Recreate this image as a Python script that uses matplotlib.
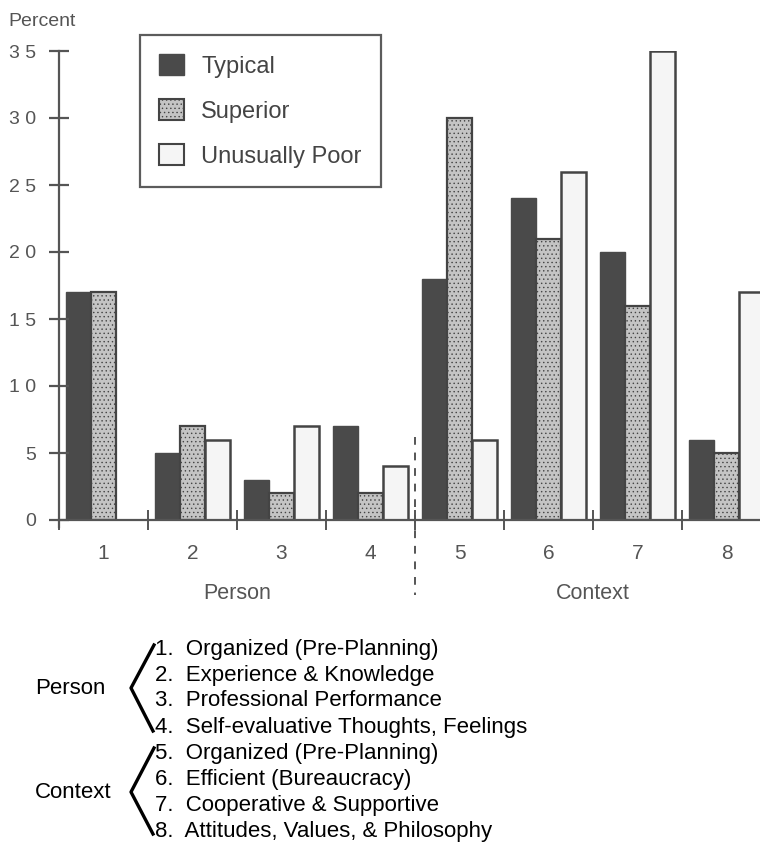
import matplotlib
matplotlib.use("Agg")
import matplotlib.pyplot as plt
from matplotlib.patches import Patch
from matplotlib.lines import Line2D
import numpy as np

plt.rcParams['font.family'] = ['Liberation Sans', 'DejaVu Sans']

categories = ["1", "2", "3", "4", "5", "6", "7", "8"]
typical = [17, 5, 3, 7, 18, 24, 20, 6]
superior = [17, 7, 2, 2, 30, 21, 16, 5]
unusually_poor = [0, 6, 7, 4, 6, 26, 35, 17]
series_names = ["Typical", "Superior", "Unusually Poor"]
yticks = [0, 5, 10, 15, 20, 25, 30, 35]
ytick_labels = ["0", "5", "1 0", "1 5", "2 0", "2 5", "3 0", "3 5"]
group_names = ["Person", "Context"]
person_items = ["1.  Organized (Pre-Planning)", "2.  Experience & Knowledge",
                "3.  Professional Performance", "4.  Self-evaluative Thoughts, Feelings"]
context_items = ["5.  Organized (Pre-Planning)", "6.  Efficient (Bureaucracy)",
                 "7.  Cooperative & Supportive", "8.  Attitudes, Values, & Philosophy"]

W, H = 760, 849
fig = plt.figure(figsize=(W/100, H/100), dpi=100)
fig.patch.set_facecolor('white')

ax_left, ax_right = 59, 771
ax_bottom, ax_top = 520, 51
ax = fig.add_axes([ax_left/W, 1-ax_bottom/H, (ax_right-ax_left)/W, (ax_bottom-ax_top)/H])

gray = '#555555'
x = np.arange(1, len(categories)+1)
bw = 0.28
c_typ = '#4a4a4a'
c_sup = '#c4c4c4'
c_poor = '#f5f5f5'
plt.rcParams['hatch.linewidth'] = 0.5

ax.bar(x - bw, typical, bw, color=c_typ, edgecolor=c_typ, linewidth=1.0, label=series_names[0])
ax.bar(x, superior, bw, color=c_sup, edgecolor='#444444', linewidth=1.6, hatch='....', label=series_names[1])
ax.bar(x + bw, [v if v > 0 else np.nan for v in unusually_poor], bw, color=c_poor,
       edgecolor='#444444', linewidth=1.8, label=series_names[2])

ax.set_xlim(0.5, 8.5)
ax.set_ylim(0, 35)
for s in ['top', 'right']:
    ax.spines[s].set_visible(False)
ax.spines['left'].set_color(gray)
ax.spines['bottom'].set_color(gray)
ax.spines['left'].set_linewidth(1.6)
ax.spines['bottom'].set_linewidth(1.6)
ax.spines['left'].set_bounds(-0.5, 35)
ax.spines['bottom'].set_position(('data', 0))

ax.set_yticks(yticks)
ax.set_yticklabels(ytick_labels, fontsize=14, color=gray)
ax.tick_params(axis='y', direction='inout', length=15, width=1.6, color=gray, pad=9)
ax.set_xticks(np.arange(0.5, 9.0, 1.0))
ax.set_xticklabels([])
ax.tick_params(axis='x', direction='inout', length=14, width=1.4, color=gray)

for xi, lab in zip(x, categories):
    ax.text(xi, -2.5, lab, ha='center', va='center', fontsize=15, color=gray, clip_on=False)
ax.text(2.5, -5.45, group_names[0], ha='center', va='center', fontsize=15.5, color=gray)
ax.text(6.5, -5.45, group_names[1], ha='center', va='center', fontsize=15.5, color=gray)
ax.plot([4.5, 4.5], [6.2, -5.6], ls=(0, (4, 4)), color=gray, lw=1.4, clip_on=False)

fig.text(8/W, 1-21/H, "Percent", fontsize=14, color=gray, ha='left', va='center')

handles = [Patch(facecolor=c_typ, edgecolor=c_typ),
           Patch(facecolor=c_sup, edgecolor='#444444', hatch='....', linewidth=1.5),
           Patch(facecolor=c_poor, edgecolor='#444444', linewidth=1.5)]
leg = fig.legend(handles, series_names, loc='upper left',
                 bbox_to_anchor=(140/W, 1-35/H), fancybox=False, frameon=True,
                 fontsize=17, handlelength=1.05, handleheight=0.95, labelspacing=0.92,
                 handletextpad=0.72, borderpad=0.82, borderaxespad=0)
leg.get_frame().set_edgecolor('#333333')
leg.get_frame().set_linewidth(1.6)
for t in leg.get_texts():
    t.set_color('#444444')

# Bottom key
line_y0 = 649
dy = 26
for i, t in enumerate(person_items + context_items):
    fig.text(155/W, 1-(line_y0 + i*dy)/H, t, fontsize=16, color='black', ha='left', va='center')
fig.text(35/W, 1-688/H, group_names[0], fontsize=16, color='black', ha='left', va='center')
fig.text(35/W, 1-792/H, group_names[1], fontsize=16, color='black', ha='left', va='center')
for (yt, yv, yb) in [(645, 688, 731), (748, 792, 834)]:
    fig.add_artist(Line2D([154/W, 131/W, 153/W], [1-yt/H, 1-yv/H, 1-yb/H],
                          color='black', lw=2.4, solid_joinstyle='round'))

fig.savefig("out.png", dpi=100)
